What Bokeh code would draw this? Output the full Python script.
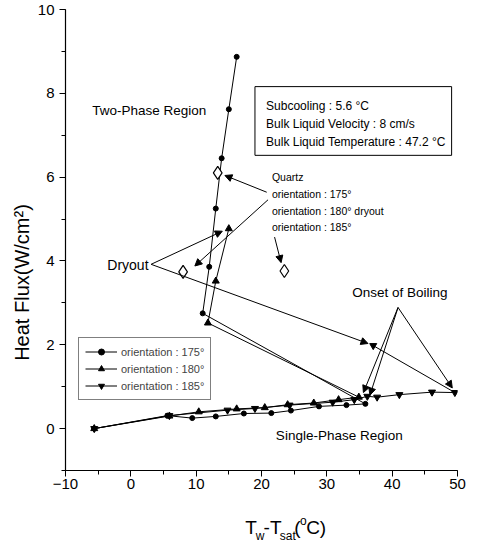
from math import pi
from bokeh.plotting import figure
from bokeh.layouts import row, column
from bokeh.core.properties import value
from bokeh.models import (Range1d, SingleIntervalTicker, Label, Arrow, NormalHead,
                          BoxAnnotation, Legend, LegendItem)
from bokeh.embed import file_html
from bokeh.resources import INLINE

# ---- data ----
x175 = [-5.6, 5.6, 9.4, 13.0, 17.3, 21.5, 24.5, 28.8, 33.0, 35.9, 11.0, 12.0, 13.0, 13.9, 15.0, 16.2]
y175 = [0.0, 0.31, 0.25, 0.29, 0.36, 0.37, 0.43, 0.53, 0.56, 0.59, 2.75, 3.86, 5.25, 6.45, 7.62, 8.87]
x180 = [-5.6, 5.9, 10.4, 16.2, 20.5, 24.0, 28.0, 31.8, 34.9, 11.8, 13.0, 15.0]
y180 = [0.0, 0.30, 0.40, 0.47, 0.50, 0.57, 0.61, 0.69, 0.75, 2.52, 3.52, 4.77]
x185 = [-5.6, 5.9, 14.8, 19.0, 24.3, 30.9, 34.2, 36.2, 37.7, 41.1, 46.1, 49.6, 37.1]
y185 = [0.0, 0.31, 0.44, 0.48, 0.56, 0.63, 0.69, 0.77, 0.75, 0.81, 0.87, 0.86, 1.98]
xq = [13.3, 8.0, 23.5]
yq = [6.10, 3.74, 3.76]
series_labels = ["orientation : 175°", "orientation : 180°", "orientation : 185°"]

# annotation arrows (start -> tip)
arr_x0 = [3.1, 3.1, 20.8, 21.0, 22.0, 40.9, 40.9, 40.9]
arr_y0 = [3.92, 3.92, 5.64, 5.46, 4.57, 2.89, 2.89, 2.89]
arr_x1 = [14.0, 36.3, 14.4, 9.8, 23.0, 35.6, 36.6, 49.2]
arr_y1 = [4.71, 2.03, 6.04, 3.88, 3.96, 0.86, 0.80, 0.97]

FONT = "Liberation Sans"

# ---------------- main plot ----------------
p = figure(width=432, height=500, x_range=Range1d(-10, 50), y_range=Range1d(-1, 10),
           output_backend="svg", toolbar_location=None,
           min_border_left=28, min_border_right=9, min_border_top=9, min_border_bottom=30)
p.grid.visible = False
p.outline_line_color = None

p.xaxis.ticker = SingleIntervalTicker(interval=10, num_minor_ticks=2)
p.yaxis.ticker = SingleIntervalTicker(interval=2, num_minor_ticks=2)
for ax in p.axis:
    ax.major_tick_in = 0
    ax.major_tick_out = 6
    ax.minor_tick_in = 0
    ax.minor_tick_out = 4
    ax.major_label_text_font = FONT
    ax.major_label_text_font_size = "15px"
    ax.major_label_text_color = "black"
    ax.axis_line_color = "black"
    ax.axis_line_width = 1.2
    ax.major_tick_line_color = "black"
    ax.minor_tick_line_color = "black"
p.xaxis.major_label_standoff = 2
p.yaxis.major_label_standoff = 5

l1 = p.line(x175, y175, line_color="black", line_width=1)
m1 = p.scatter(x175, y175, marker="circle", size=5, color="black")
l2 = p.line(x180, y180, line_color="black", line_width=1)
m2 = p.scatter(x180, y180, marker="triangle", size=7, color="black")
l3 = p.line(x185, y185, line_color="black", line_width=1)
m3 = p.scatter(x185, y185, marker="inverted_triangle", size=7, color="black")
p.scatter(xq, yq, marker="diamond", size=13, fill_color="white", line_color="black", line_width=1.2)

legend = Legend(items=[LegendItem(label=series_labels[0], renderers=[l1, m1]),
                       LegendItem(label=series_labels[1], renderers=[l2, m2]),
                       LegendItem(label=series_labels[2], renderers=[l3, m3])],
                location=(13, 70), border_line_color="black", border_line_width=1,
                background_fill_color="white", background_fill_alpha=1,
                padding=6, spacing=2, margin=0, glyph_width=32, glyph_height=15,
                label_height=15, label_standoff=4,
                label_text_font=FONT, label_text_font_size="11px")
p.add_layout(legend)

for xs, ys, xe, ye in zip(arr_x0, arr_y0, arr_x1, arr_y1):
    p.add_layout(Arrow(x_start=xs, y_start=ys, x_end=xe, y_end=ye, line_width=1, line_color="black",
                       end=NormalHead(size=7, fill_color="black", line_color="black")))

p.add_layout(BoxAnnotation(left=19.0, right=49.1, top=8.16, bottom=6.52, fill_alpha=0,
                           line_color="black", line_width=1, line_alpha=1))


def lab(x, y, text, size):
    p.add_layout(Label(x=x, y=y, text=text, text_font=FONT, text_font_size=f"{size}px",
                       text_baseline="middle", text_align="left", text_color="black"))


box_lines = ["Subcooling : 5.6 °C", "Bulk Liquid Velocity : 8 cm/s", "Bulk Liquid Temperature : 47.2 °C"]
for t, yy in zip(box_lines, [7.69, 7.27, 6.85]):
    lab(20.7, yy, t, 12)

quartz_lines = ["Quartz", "orientation : 175°", "orientation : 180° dryout", "orientation : 185°"]
for t, yy in zip(quartz_lines, [6.0, 5.6, 5.2, 4.8]):
    lab(21.6, yy, t, 10.5)

lab(-5.9, 7.59, "Two-Phase Region", 13.5)
lab(-3.6, 3.91, "Dryout", 14)
lab(33.9, 3.25, "Onset of Boiling", 13.5)
lab(22.2, -0.16, "Single-Phase Region", 13.5)

# ---------------- y-axis title strip (left) ----------------
left = figure(width=34, height=541, x_range=Range1d(0, 34), y_range=Range1d(0, 541),
              output_backend="svg", toolbar_location=None, min_border=0,
              x_axis_location=None, y_axis_location=None)
left.outline_line_color = None
left.grid.visible = False
left.text(x=[21], y=[259], text=["Heat Flux(W/cm²)"], angle=pi / 2,
          text_align="center", text_baseline="middle",
          text_font=value(FONT), text_font_size=value("20px"), text_color="black")

# ---------------- x-axis title strip (bottom) ----------------
bottom = figure(width=432, height=41, x_range=Range1d(42, 474), y_range=Range1d(0, 41),
                output_backend="svg", toolbar_location=None, min_border=0,
                x_axis_location=None, y_axis_location=None)
bottom.outline_line_color = None
bottom.grid.visible = False
main_txt = ["T", "-T", "(", "C)"]
main_x = [240, 260.3, 294.2, 307.2]
sub_txt = ["w", "sat"]
sub_x = [251.6, 278.2]
sup_txt = ["o"]
sup_x = [300.5]
bottom.text(x=main_x, y=[14] * len(main_x), text=main_txt, text_align="left", text_baseline="middle",
            text_font=value(FONT), text_font_size=value("19px"), text_color="black")
bottom.text(x=sub_x, y=[6] * len(sub_x), text=sub_txt, text_align="left", text_baseline="middle",
            text_font=value(FONT), text_font_size=value("12px"), text_color="black")
bottom.text(x=sup_x, y=[21], text=sup_txt, text_align="left", text_baseline="middle",
            text_font=value(FONT), text_font_size=value("12px"), text_color="black")

layout = row(left, column(p, bottom))
open("out.html", "w").write(file_html(layout, INLINE))
